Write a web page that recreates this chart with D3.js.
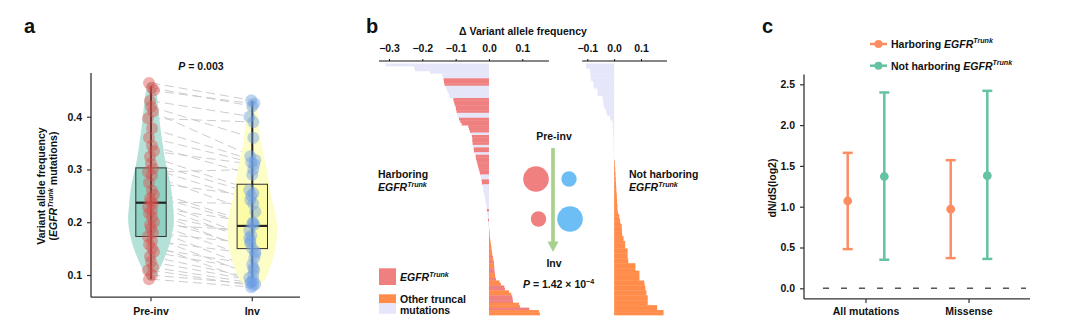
<!DOCTYPE html>
<html>
<head>
<meta charset="utf-8">
<script src="https://cdn.jsdelivr.net/npm/d3@7/dist/d3.min.js"></script>
<style>
html,body{margin:0;padding:0;background:#fff;}
svg text{font-family:"Liberation Sans",Arial,Helvetica,sans-serif;font-weight:bold;fill:#111;}
</style>
</head>
<body>
<svg id="fig" width="1078" height="333"></svg>
<script>
// ================= Panel a data =================
const groupsA = ["Pre-inv", "Inv"];
const preInvVAF = [0.464, 0.455, 0.45, 0.43, 0.419, 0.41, 0.397, 0.378, 0.36, 0.345, 0.335, 0.324, 0.312, 0.302, 0.295, 0.289, 0.275, 0.26, 0.252, 0.245, 0.239, 0.235, 0.229, 0.222, 0.217, 0.21, 0.2, 0.195, 0.188, 0.18, 0.173, 0.165, 0.158, 0.151, 0.144, 0.135, 0.125, 0.115, 0.109, 0.1, 0.092];
const invVAF    = [0.431, 0.42, 0.425, 0.4, 0.36, 0.325, 0.39, 0.318, 0.313, 0.29, 0.31, 0.261, 0.255, 0.242, 0.30, 0.22, 0.25, 0.198, 0.195, 0.17, 0.235, 0.164, 0.2, 0.144, 0.175, 0.15, 0.132, 0.185, 0.113, 0.16, 0.1, 0.14, 0.087, 0.12, 0.11, 0.095, 0.09, 0.085, 0.08, 0.083, 0.077];
const boxQ1 = [0.173, 0.150];
const boxMedian = [0.237, 0.193];
const boxQ3 = [0.303, 0.272];
const whiskerLow = [0.092, 0.077];
const whiskerHigh = [0.458, 0.430];
const yTicksA = [0.1, 0.2, 0.3, 0.4];
const violinLevelsPre  = [0.09, 0.11, 0.13, 0.16, 0.20, 0.23, 0.27, 0.31, 0.35, 0.40, 0.44, 0.465];
const violinDensityPre = [0.12, 0.33, 0.53, 0.77, 0.93, 0.90, 0.80, 0.61, 0.47, 0.33, 0.24, 0.12];
const violinLevelsInv  = [0.075, 0.09, 0.12, 0.16, 0.20, 0.25, 0.30, 0.35, 0.40, 0.435];
const violinDensityInv = [0.16, 0.49, 0.77, 0.98, 1.0, 0.77, 0.59, 0.37, 0.24, 0.12];

// ================= Panel b data =================
// type: E = EGFR trunk, O = other truncal mutation
const harborDelta = [-0.31,-0.225,-0.222,-0.177,-0.14,-0.138,-0.136,-0.135,-0.133,-0.13,-0.127,-0.124,-0.12,-0.117,-0.107,-0.105,-0.103,-0.1,-0.099,-0.097,-0.095,-0.094,-0.09,-0.086,-0.082,-0.062,-0.06,-0.057,-0.053,-0.051,-0.05,-0.05,-0.049,-0.047,-0.046,-0.045,-0.042,-0.04,-0.039,-0.037,-0.035,-0.033,-0.031,-0.029,-0.027,-0.025,-0.024,-0.022,-0.021,-0.019,-0.018,-0.017,-0.015,-0.014,-0.012,-0.011,-0.009,-0.008,-0.007,-0.006,-0.005,-0.004,-0.004,-0.003,-0.002,-0.002,-0.001,0.001,0.002,0.002,0.003,0.004,0.005,0.006,0.007,0.008,0.009,0.01,0.012,0.013,0.015,0.015,0.016,0.016,0.017,0.018,0.019,0.021,0.032,0.036,0.046,0.048,0.06,0.067,0.07,0.071,0.072,0.09,0.093,0.121,0.15,0.153];
const harborType = ("O OO O OO EEE OOOOO EEEEEE OO EEE EEE O EEEE O EE O EEEEEEEE OO EE OOOOOOOOOO E OOO E OOO " +
                    "OOOOO OOOO OO EOE OO EE OO E OO EE OO EEE OO E OO").replace(/ /g, "").split("");
const notHarborDelta = [-0.105,-0.104,-0.09,-0.089,-0.088,-0.087,-0.086,-0.078,-0.077,-0.076,-0.063,-0.062,-0.061,-0.043,-0.042,-0.041,-0.04,-0.038,-0.032,-0.03,-0.027,-0.016,-0.014,-0.006,-0.005,-0.005,-0.004,-0.004,-0.003,-0.003,-0.003,-0.002,-0.002,-0.002,-0.002,-0.001,-0.001,-0.001,-0.001,0.002,0.003,0.003,0.004,0.004,0.005,0.005,0.006,0.006,0.007,0.007,0.008,0.008,0.009,0.01,0.01,0.011,0.011,0.012,0.012,0.013,0.014,0.019,0.019,0.022,0.023,0.028,0.028,0.029,0.029,0.03,0.035,0.035,0.041,0.041,0.041,0.05,0.05,0.05,0.05,0.052,0.053,0.079,0.079,0.079,0.094,0.094,0.094,0.094,0.112,0.113,0.116,0.116,0.12,0.12,0.125,0.125,0.125,0.125,0.16,0.16,0.184,0.184];
const ticksBLeft = [-0.3, -0.2, -0.1, 0.0, 0.1];
const ticksBRight = [-0.1, 0.0, 0.1];
const schematicStage = ["Pre-inv", "Pre-inv", "Inv", "Inv"];
const schematicGroup = ["EGFR", "Other", "EGFR", "Other"];
const schematicRelVAF = [1.0, 0.6, 0.6, 1.0];

// ================= Panel c data =================
const dndsCats = ["All mutations", "Missense"];
const dndsSeries = ["Harboring", "Not harboring"];
const harborMid = [1.07, 0.97], harborLo = [0.48, 0.37], harborHi = [1.66, 1.57];
const notMid = [1.37, 1.38], notLo = [0.35, 0.36], notHi = [2.40, 2.42];
const yTicksC = [0.0, 0.5, 1.0, 1.5, 2.0, 2.5];

// ================= helpers =================
const svg = d3.select("#fig");
const fmt1 = d3.format(".1f");
function rich(sel, parts, fs) {
  let shifted = 0;
  parts.forEach(([t, k]) => {
    const ts = sel.append("tspan").text(t);
    if (k === "i" || k === "sup") ts.attr("font-style", "italic");
    if (k === "sup" || k === "S") {
      ts.attr("font-size", (fs * 0.68) + "px").attr("dy", -fs * 0.42);
      shifted = fs * 0.42;
    } else if (shifted) {
      ts.attr("dy", shifted); shifted = 0;
    }
  });
  return sel;
}
function txt(x, y, fs, anchor) {
  return svg.append("text").attr("x", x).attr("y", y).attr("font-size", fs + "px")
    .attr("text-anchor", anchor || "start");
}

// ================= Panel a =================
const gA = svg.append("g");
const yA = d3.scaleLinear().domain([0.1, 0.4]).range([275, 116.7]);
const xA = d3.scalePoint().domain(groupsA).range([151, 252.3]);
const wScale = d3.scaleLinear().domain([0, 1]).range([0, 24.5]);

txt(24, 33, 20).text("a");
rich(txt(201, 70, 10.5, "middle"), [["P", "i"], [" = 0.003", "n"]], 10.5);

// paired lines
const pairs = preInvVAF.map((p, i) => [p, invVAF[i]]);
gA.selectAll("line.pair").data(pairs).join("line").attr("class", "pair")
  .attr("x1", xA("Pre-inv")).attr("x2", xA("Inv"))
  .attr("y1", d => yA(d[0])).attr("y2", d => yA(d[1]))
  .attr("stroke", "#c6c6c6").attr("stroke-width", 0.9).attr("stroke-dasharray", "9,5");

// violins
const violins = [
  {g: "Pre-inv", lv: violinLevelsPre, dn: violinDensityPre, fill: "#b5e2d8"},
  {g: "Inv", lv: violinLevelsInv, dn: violinDensityInv, fill: "#fdfdc8"}
];
violins.forEach(v => {
  const pts = v.lv.map((l, i) => [l, v.dn[i]]);
  const area = d3.area().curve(d3.curveCatmullRom)
    .y(d => yA(d[0])).x0(d => xA(v.g) - wScale(d[1])).x1(d => xA(v.g) + wScale(d[1]));
  gA.append("path").attr("d", area(pts)).attr("fill", v.fill);
});

// boxes
const boxFill = ["#8fd2c3", "#fdfca6"];
const bw = xA.step() * 0.3;
groupsA.forEach((g, i) => {
  const cx = xA(g);
  gA.append("rect").attr("x", cx - bw / 2).attr("width", bw)
    .attr("y", yA(boxQ3[i])).attr("height", yA(boxQ1[i]) - yA(boxQ3[i]))
    .attr("fill", boxFill[i]).attr("stroke", "#333").attr("stroke-width", 1);
  gA.append("line").attr("x1", cx).attr("x2", cx)
    .attr("y1", yA(whiskerLow[i])).attr("y2", yA(whiskerHigh[i]))
    .attr("stroke", "#222").attr("stroke-width", 2);
  gA.append("line").attr("x1", cx - bw / 2).attr("x2", cx + bw / 2)
    .attr("y1", yA(boxMedian[i])).attr("y2", yA(boxMedian[i]))
    .attr("stroke", "#222").attr("stroke-width", 2.2);
});

// points
const jit = [-2, 1, 3, -1, 0, 2, -3, 1];
gA.selectAll("circle.pre").data(preInvVAF).join("circle").attr("class", "pre")
  .attr("cx", (d, i) => xA("Pre-inv") + jit[i % jit.length]).attr("cy", d => yA(d)).attr("r", 6)
  .attr("fill", "#d9534f").attr("fill-opacity", 0.45);
gA.selectAll("circle.inv").data(invVAF).join("circle").attr("class", "inv")
  .attr("cx", (d, i) => xA("Inv") + jit[(i + 3) % jit.length]).attr("cy", d => yA(d)).attr("r", 6)
  .attr("fill", "#6f9fe6").attr("fill-opacity", 0.45);

// axes a
gA.append("line").attr("x1", 91).attr("x2", 91).attr("y1", yA(0.483)).attr("y2", yA(0.058))
  .attr("stroke", "#333").attr("stroke-width", 1.3);
gA.append("line").attr("x1", 91).attr("x2", 300).attr("y1", yA(0.058)).attr("y2", yA(0.058))
  .attr("stroke", "#333").attr("stroke-width", 1.3);
const axA = gA.append("g").attr("transform", "translate(91,0)")
  .call(d3.axisLeft(yA).tickValues(yTicksA).tickSize(4).tickPadding(5).tickFormat(fmt1));
axA.select(".domain").remove();
axA.selectAll("line").attr("stroke", "#333").attr("stroke-width", 1.2);
axA.selectAll("text").attr("font-size", "10.5px").attr("font-family", null);
groupsA.forEach(g => {
  gA.append("line").attr("x1", xA(g)).attr("x2", xA(g)).attr("y1", yA(0.058)).attr("y2", yA(0.058) + 4)
    .attr("stroke", "#333").attr("stroke-width", 1.2);
  txt(xA(g), 315, 10.5, "middle").text(g);
});
svg.append("text").attr("transform", "translate(45,186) rotate(-90)").attr("text-anchor", "middle")
  .attr("font-size", "10.5px").text("Variant allele frequency");
rich(svg.append("text").attr("transform", "translate(57,186) rotate(-90)").attr("text-anchor", "middle")
  .attr("font-size", "10.5px"), [["(", "n"], ["EGFR", "i"], ["Trunk", "sup"], [" mutations)", "n"]], 10.5);

// ================= Panel b =================
const gB = svg.append("g");
const yB = d3.scaleBand().domain(d3.range(harborDelta.length)).range([63.5, 315]);
const yBR = d3.scaleBand().domain(d3.range(notHarborDelta.length)).range([63.5, 315]);
const xBL = d3.scaleLinear().domain([-0.3, 0.1]).range([389, 522.3]);
const xBR = d3.scaleLinear().domain([-0.1, 0.1]).range([587.3, 641]);
const cEGFR = "#f08080", cOtherPos = "#ff8c4a", cOtherNeg = "#e6e6fa";
const barColor = (v, t) => t === "E" ? cEGFR : (v >= 0 ? cOtherPos : cOtherNeg);

txt(366, 33, 20).text("b");
txt(523, 35, 10.5, "middle").text("\u0394 Variant allele frequency");

gB.selectAll("rect.l").data(harborDelta).join("rect").attr("class", "l")
  .attr("x", d => Math.min(xBL(0), xBL(d))).attr("width", d => Math.abs(xBL(d) - xBL(0)))
  .attr("y", (d, i) => yB(i)).attr("height", yB.bandwidth() + 0.35)
  .attr("fill", (d, i) => barColor(d, harborType[i]));
gB.selectAll("rect.r").data(notHarborDelta).join("rect").attr("class", "r")
  .attr("x", d => Math.min(xBR(0), xBR(d))).attr("width", d => Math.abs(xBR(d) - xBR(0)))
  .attr("y", (d, i) => yBR(i)).attr("height", yBR.bandwidth() + 0.35)
  .attr("fill", d => barColor(d, "O"));

function topAxis(scale, ticks, lo, hi) {
  const g = gB.append("g").attr("transform", "translate(0,61)")
    .call(d3.axisTop(scale).tickValues(ticks).tickSize(2).tickPadding(7).tickFormat(fmt1));
  g.select(".domain").remove();
  g.selectAll("line").attr("stroke", "#111");
  g.selectAll("text").attr("font-size", "10.5px").attr("font-family", null);
  gB.append("line").attr("x1", scale(lo)).attr("x2", scale(hi)).attr("y1", 61).attr("y2", 61)
    .attr("stroke", "#111").attr("stroke-width", 1.2);
}
topAxis(xBL, ticksBLeft, -0.33, 0.18);
topAxis(xBR, ticksBRight, -0.119, 0.197);

// group labels
txt(378, 178, 10.5).text("Harboring");
rich(txt(378, 191, 10.5), [["EGFR", "i"], ["Trunk", "sup"]], 10.5);
txt(629, 178, 10.5).text("Not harboring");
rich(txt(629, 191, 10.5), [["EGFR", "i"], ["Trunk", "sup"]], 10.5);

// schematic
const sx = 553;
const stageY = d3.scalePoint().domain(["Pre-inv", "Inv"]).range([179, 219]);
const grpX = d3.scalePoint().domain(["EGFR", "Other"]).range([sx - 17, sx + 17]);
const rS = d3.scaleLinear().domain([0.6, 1]).range([7.7, 12.8]);
txt(sx + 1, 140, 10.5, "middle").text("Pre-inv");
gB.append("line").attr("x1", sx).attr("x2", sx).attr("y1", 148).attr("y2", 243)
  .attr("stroke", "#a9d18e").attr("stroke-width", 3.7);
gB.append("path").attr("d", `M${sx - 5.5},241.5 L${sx + 5.5},241.5 L${sx},252 Z`).attr("fill", "#a9d18e");
schematicStage.forEach((s, i) => {
  gB.append("circle").attr("cx", grpX(schematicGroup[i]) + (schematicRelVAF[i] < 0.8 ? 2.5 : 0) * (schematicGroup[i] === "EGFR" ? 1 : -0.4))
    .attr("cy", stageY(s)).attr("r", rS(schematicRelVAF[i]))
    .attr("fill", schematicGroup[i] === "EGFR" ? "#f08080" : "#6cbef5");
});
txt(sx + 1, 267, 10.5, "middle").text("Inv");
rich(txt(523, 288, 10.5), [["P", "i"], [" = 1.42 \u00d7 10", "n"], ["\u22124", "S"]], 10.5);

// legend b
gB.append("rect").attr("x", 379).attr("y", 268.3).attr("width", 17).attr("height", 16.7).attr("fill", cEGFR);
gB.append("rect").attr("x", 379).attr("y", 294.3).attr("width", 17).attr("height", 9).attr("fill", cOtherPos);
gB.append("rect").attr("x", 379).attr("y", 303.3).attr("width", 17).attr("height", 10.5).attr("fill", cOtherNeg);
rich(txt(400, 281, 10.5), [["EGFR", "i"], ["Trunk", "sup"]], 10.5);
txt(400, 302.5, 10.5).text("Other truncal");
txt(400, 314, 10.5).text("mutations");

// ================= Panel c =================
const gC = svg.append("g");
const yC = d3.scaleLinear().domain([0, 2.5]).range([288.3, 84.3]);
const xC = d3.scalePoint().domain(dndsCats).range([866, 969]);
const xSer = d3.scalePoint().domain(dndsSeries).range([-18.3, 18.3]);
const serColor = {"Harboring": "#fc8d62", "Not harboring": "#66c2a5"};

txt(762, 33, 20).text("c");

gC.append("line").attr("x1", 823).attr("x2", 1026).attr("y1", yC(0)).attr("y2", yC(0))
  .attr("stroke", "#555").attr("stroke-width", 1.4).attr("stroke-dasharray", "6,12");

const rowsC = [];
dndsCats.forEach((c, i) => {
  rowsC.push({c, s: "Harboring", m: harborMid[i], lo: harborLo[i], hi: harborHi[i]});
  rowsC.push({c, s: "Not harboring", m: notMid[i], lo: notLo[i], hi: notHi[i]});
});
rowsC.forEach(d => {
  const x = xC(d.c) + xSer(d.s), col = serColor[d.s];
  gC.append("line").attr("x1", x).attr("x2", x).attr("y1", yC(d.lo)).attr("y2", yC(d.hi))
    .attr("stroke", col).attr("stroke-width", 2.5);
  [d.lo, d.hi].forEach(v => gC.append("line").attr("x1", x - 5).attr("x2", x + 5)
    .attr("y1", yC(v)).attr("y2", yC(v)).attr("stroke", col).attr("stroke-width", 2.5));
  gC.append("circle").attr("cx", x).attr("cy", yC(d.m)).attr("r", 4.4).attr("fill", col);
});

gC.append("line").attr("x1", 804).attr("x2", 804).attr("y1", yC(2.62)).attr("y2", yC(-0.13))
  .attr("stroke", "#333").attr("stroke-width", 1.3);
gC.append("line").attr("x1", 804).attr("x2", 1030).attr("y1", yC(-0.13)).attr("y2", yC(-0.13))
  .attr("stroke", "#333").attr("stroke-width", 1.3);
const axC = gC.append("g").attr("transform", "translate(804,0)")
  .call(d3.axisLeft(yC).tickValues(yTicksC).tickSize(4).tickPadding(5).tickFormat(fmt1));
axC.select(".domain").remove();
axC.selectAll("line").attr("stroke", "#333").attr("stroke-width", 1.2);
axC.selectAll("text").attr("font-size", "10.5px").attr("font-family", null);
dndsCats.forEach(c => {
  gC.append("line").attr("x1", xC(c)).attr("x2", xC(c)).attr("y1", yC(-0.13)).attr("y2", yC(-0.13) + 4)
    .attr("stroke", "#333").attr("stroke-width", 1.2);
  txt(xC(c), 315, 10.5, "middle").text(c);
});
svg.append("text").attr("transform", "translate(776,188) rotate(-90)").attr("text-anchor", "middle")
  .attr("font-size", "10.5px").text("dN/dS(log2)");

// legend c
const legY = d3.scalePoint().domain(dndsSeries).range([44, 65.7]);
dndsSeries.forEach(s => {
  const y = legY(s), col = serColor[s];
  gC.append("line").attr("x1", 870).attr("x2", 887).attr("y1", y).attr("y2", y).attr("stroke", col).attr("stroke-width", 2.5);
  gC.append("circle").attr("cx", 878.5).attr("cy", y).attr("r", 4).attr("fill", col);
  rich(txt(891, y + 3.8, 10.5), [[s + " ", "n"], ["EGFR", "i"], ["Trunk", "sup"]], 10.5);
});
</script>
</body>
</html>
